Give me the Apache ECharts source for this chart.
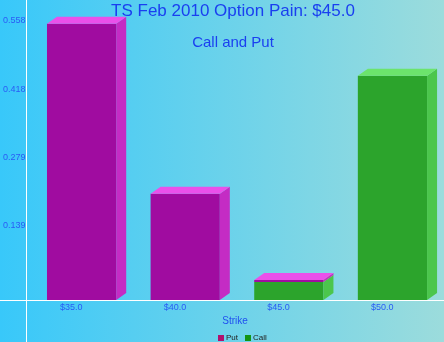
<!DOCTYPE html>
<html>
<head>
<meta charset="utf-8">
<script src="https://cdn.jsdelivr.net/npm/echarts@6/dist/echarts.min.js"></script>
<style>html,body{margin:0;padding:0;}#c{width:444px;height:342px;}</style>
</head>
<body>
<div id="c"></div>
<script>
var categories = ['$35.0', '$40.0', '$45.0', '$50.0'];
var putValues = [0.564, 0.217, 0.004, 0];
var callValues = [0, 0, 0.037, 0.458];
var yTickInterval = 0.1395;
var yTickLabels = ['0.139', '0.279', '0.418', '0.558'];
var titleText = 'TS Feb 2010 Option Pain: $45.0';
var subtitleText = 'Call and Put';
var xAxisName = 'Strike';

var DX = 10, DY = 7;
function makeRender(front, top, side) {
  return function (params, api) {
    var i = api.value(0), s = api.value(1), e = api.value(2);
    if (e <= s) return null;
    var band = api.size([1, 0])[0];
    var c0 = api.coord([i, s]);
    var c1 = api.coord([i, e]);
    var L = c0[0] - band * 0.235;
    var W = band * 0.668;
    var R = L + W;
    var yb = c0[1], yt = c1[1];
    return {
      type: 'group',
      children: [
        { type: 'rect', shape: { x: L, y: yt, width: W, height: yb - yt }, style: { fill: front } },
        { type: 'polygon', shape: { points: [[R, yb], [R, yt], [R + DX, yt - DY], [R + DX, yb - DY]] }, style: { fill: side } },
        { type: 'polygon', shape: { points: [[L, yt], [R, yt], [R + DX, yt - DY], [L + DX, yt - DY]] }, style: { fill: top } }
      ]
    };
  };
}

var callData = categories.map(function (c, i) { return [i, 0, callValues[i]]; });
var putData = categories.map(function (c, i) { return [i, callValues[i], callValues[i] + putValues[i]]; });

var chart = echarts.init(document.getElementById('c'), null, { renderer: 'canvas' });
chart.setOption({
  animation: false,
  backgroundColor: new echarts.graphic.LinearGradient(0, 0, 1, 0, [
    { offset: 0, color: '#38c8fa' }, { offset: 1, color: '#9cdcdc' }
  ]),
  grid: { left: 18, right: 10, top: 0, bottom: 42 },
  legend: {
    left: 213, top: 329,
    itemWidth: 6, itemHeight: 6, itemGap: 7,
    textStyle: { fontSize: 8, color: '#222', padding: [0, 0, 0, -3], fontFamily: 'Liberation Sans' },
    data: [
      { name: 'Put', icon: 'rect', itemStyle: { color: '#b0106e' } },
      { name: 'Call', icon: 'rect', itemStyle: { color: '#149414' } }
    ]
  },
  xAxis: {
    type: 'category', data: categories,
    axisLine: { show: false }, axisTick: { show: false },
    axisLabel: { margin: 3, fontSize: 9, color: '#2a5cf5', fontFamily: 'Liberation Sans' },
    splitLine: { show: false }
  },
  yAxis: {
    type: 'value', min: 0, max: 300 / 489.6, interval: yTickInterval,
    offset: -8,
    axisLine: { show: false }, axisTick: { show: false }, splitLine: { show: false },
    axisLabel: {
      margin: 2, fontSize: 9, color: '#2a5cf5', fontFamily: 'Liberation Sans',
      verticalAlign: 'bottom', lineHeight: 12,
      formatter: function (v) {
        var k = Math.round(v / yTickInterval);
        if (Math.abs(v - k * yTickInterval) > 1e-6 || k < 1 || k > yTickLabels.length) return '';
        return yTickLabels[k - 1];
      }
    }
  },
  series: [
    { name: 'Call', type: 'custom', renderItem: makeRender('#2ca42c', '#6ce46c', '#4cc64c'),
      itemStyle: { color: '#149414' }, encode: { x: 0, y: [1, 2] }, data: callData },
    { name: 'Put', type: 'custom', renderItem: makeRender('#a00ca0', '#ea50ea', '#c42cc4'),
      itemStyle: { color: '#b0106e' }, encode: { x: 0, y: [1, 2] }, data: putData }
  ],
  graphic: [
    { type: 'line', z: 100, shape: { x1: 26.5, y1: 0, x2: 26.5, y2: 342 }, style: { stroke: '#ffffff', lineWidth: 1 } },
    { type: 'line', z: 100, shape: { x1: 0, y1: 300.5, x2: 444, y2: 300.5 }, style: { stroke: '#ffffff', lineWidth: 1 } },
    { type: 'text', z: 100, x: 233, y: 11, style: { text: titleText, fontSize: 17, fill: '#1a3ff0', textAlign: 'center', textVerticalAlign: 'middle', fontFamily: 'Liberation Sans' } },
    { type: 'text', z: 100, x: 233, y: 43, style: { text: subtitleText, fontSize: 15, fill: '#1a3ff0', textAlign: 'center', textVerticalAlign: 'middle', fontFamily: 'Liberation Sans' } },
    { type: 'text', z: 100, x: 235, y: 321, style: { text: xAxisName, fontSize: 10, fill: '#2050f0', textAlign: 'center', textVerticalAlign: 'middle', fontFamily: 'Liberation Sans' } }
  ]
});
</script>
</body>
</html>
